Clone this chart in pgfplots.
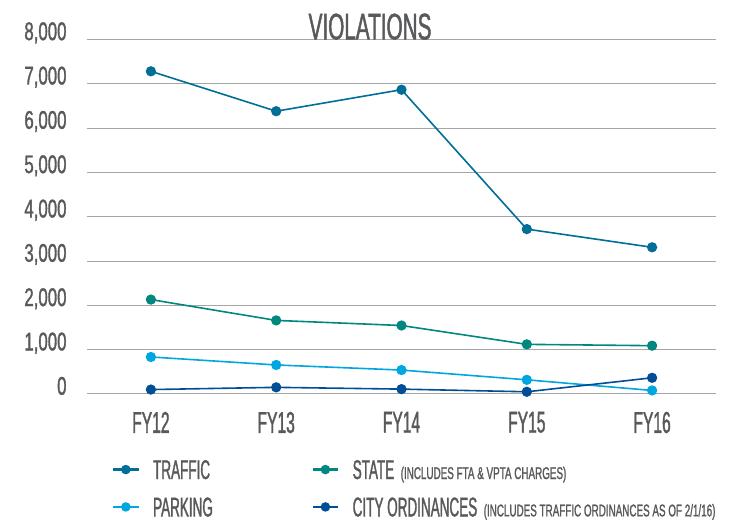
\documentclass[border=0pt]{standalone}
\usepackage{pgfplots}
\pgfplotsset{compat=1.18}
\usepackage{fontspec}
\setmainfont{Liberation Sans}
\newfontfamily\titlef{Liberation Sans}[FakeStretch=0.56, FakeBold=1.2]
\newfontfamily\legf{Liberation Sans}[FakeStretch=0.50, FakeBold=1.2]
\newfontfamily\smallf{Liberation Sans}[FakeStretch=0.58, FakeBold=1.2]
\newfontfamily\yf{Liberation Sans}[FakeStretch=0.66, FakeBold=1.2]
\newfontfamily\xf{Liberation Sans}[FakeStretch=0.52, FakeBold=1.2]
\definecolor{textgray}{HTML}{58595B}
\definecolor{gridgray}{HTML}{A6A6A6}
\definecolor{ctraffic}{HTML}{006E96}
\definecolor{cstate}{HTML}{00877F}
\definecolor{cparking}{HTML}{00A6E0}
\definecolor{ccity}{HTML}{004F96}
\begin{document}
\begin{tikzpicture}[x=1pt,y=1pt]
\useasboundingbox (0,0) rectangle (729,521);
\begin{axis}[
  at={(87pt,127pt)}, anchor=south west,
  scale only axis, width=629pt, height=354.6pt,
  xmin=-0.51, xmax=4.51, ymin=0, ymax=8000,
  axis line style={draw=none},
  xtick={0,1,2,3,4}, xticklabels={FY12,FY13,FY14,FY15,FY16},
  ytick={0,1000,...,8000},
  yticklabels={0,{1,000},{2,000},{3,000},{4,000},{5,000},{6,000},{7,000},{8,000}},
  ymajorgrids, grid style={gridgray, line width=1pt},
  major tick length=0pt, tick style={draw=none},
  /pgf/number format/assume math mode=true,
  yticklabel style={font=\yf\fontsize{25.5}{25.5}\selectfont, text=textgray, anchor=base east, inner sep=0pt, xshift=-20.3pt, yshift=-0.7pt},
  xticklabel style={font=\xf\fontsize{30}{30}\selectfont, text=textgray, anchor=north, inner sep=0pt, yshift=-17.7pt},
  clip=false,
  every axis plot/.append style={line width=1.6pt, mark=*, mark size=4.3pt},
  legend columns=2,
  legend cell align=left,
  legend image code/.code={\draw[mark repeat=2,mark phase=2,#1,mark size=3.6pt][line width=2.2pt] plot coordinates {(0pt,0pt) (12.8pt,0pt) (25.6pt,0pt)};},
  legend style={draw=none, fill=none, inner sep=0pt, at={(0.0393,-0.186)}, anchor=north west,
    font=\legf\fontsize{27}{27}\selectfont, text=textgray,
    nodes={inner sep=0pt, text depth=0pt},
    /tikz/column sep=13.4pt, /tikz/row sep=18.5pt},
]
\addplot[ctraffic, mark options={fill=ctraffic, draw=ctraffic}] coordinates {(0,7280) (1,6380) (2,6865) (3,3720) (4,3310)};
\addlegendentry{\makebox[145pt][l]{TRAFFIC}}
\addplot[cstate, mark options={fill=cstate, draw=cstate}] coordinates {(0,2130) (1,1660) (2,1545) (3,1120) (4,1090)};
\addlegendentry{STATE\hspace{6.5pt}{\smallf\fontsize{17}{17}\selectfont (INCLUDES FTA \& VPTA CHARGES)}}
\addplot[cparking, mark options={fill=cparking, draw=cparking}] coordinates {(0,835) (1,655) (2,540) (3,320) (4,80)};
\addlegendentry{\makebox[145pt][l]{PARKING}}
\addplot[ccity, mark options={fill=ccity, draw=ccity}] coordinates {(0,100) (1,150) (2,110) (3,50) (4,365)};
\addlegendentry{CITY ORDINANCES\hspace{6.5pt}{\smallf\fontsize{17}{17}\selectfont (INCLUDES TRAFFIC ORDINANCES AS OF 2/1/16)}}
\node[anchor=base, inner sep=0pt, font=\titlef\fontsize{37}{37}\selectfont, text=textgray] at (rel axis cs:0.45,1) {VIOLATIONS};
\end{axis}
\end{tikzpicture}
\end{document}
